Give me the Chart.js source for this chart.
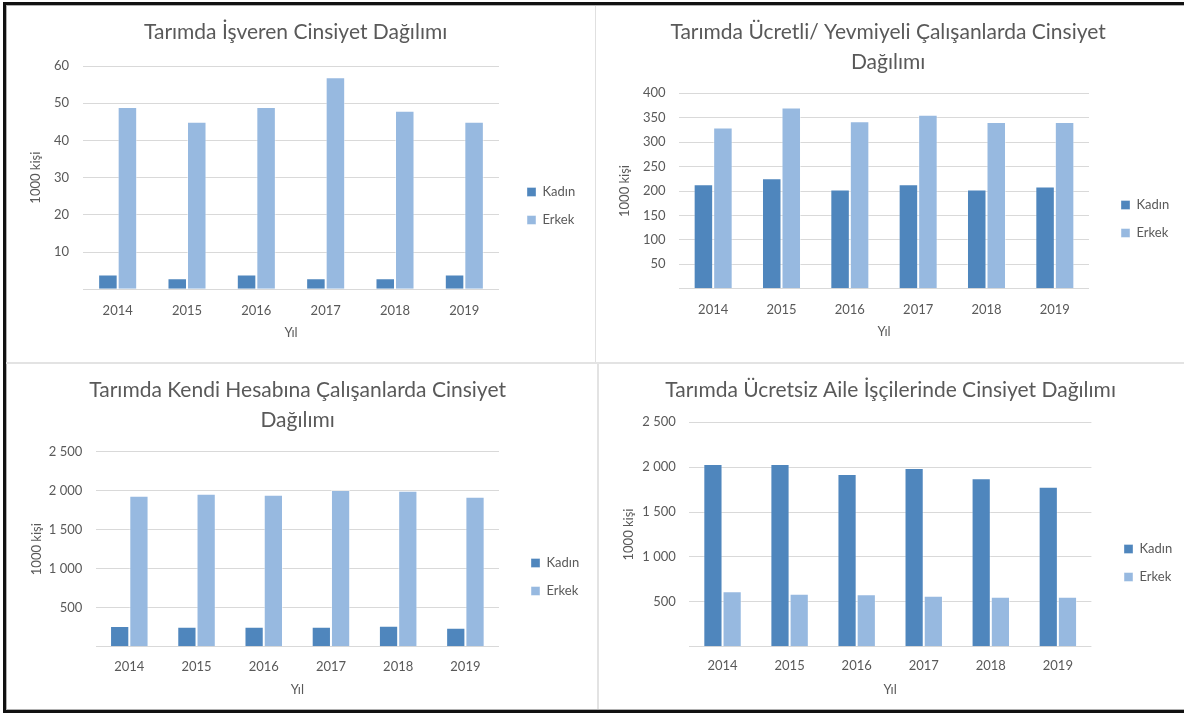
<!DOCTYPE html>
<html><head><meta charset="utf-8">
<script src="https://cdn.jsdelivr.net/npm/chart.js@4.4.1/dist/chart.umd.min.js"></script>
<style>
html,body{margin:0;padding:0;background:#fff;}
body{width:1184px;height:715px;overflow:hidden;position:relative;}
canvas{position:absolute;}
.ln{position:absolute;}
</style></head><body>
<div class="ln" style="left:3px;top:2px;width:1181px;height:3px;background:#111"></div>
<div class="ln" style="left:6px;top:5px;width:1178px;height:1px;background:#b0b0b0"></div>
<div class="ln" style="left:3px;top:2px;width:3px;height:711px;background:#111"></div>
<div class="ln" style="left:6px;top:5px;width:1px;height:705px;background:#b0b0b0"></div>
<div class="ln" style="left:3px;top:710px;width:1181px;height:3px;background:#111"></div>
<div class="ln" style="left:6px;top:709px;width:1178px;height:1px;background:#b0b0b0"></div>
<div class="ln" style="left:595px;top:6px;width:1px;height:356px;background:#e0e0e0"></div>
<div class="ln" style="left:6px;top:362px;width:1178px;height:2px;background:#e3e3e3"></div>
<div class="ln" style="left:597px;top:364px;width:2px;height:345px;background:#e3e3e3"></div>
<canvas id="c1"></canvas><canvas id="c2"></canvas><canvas id="c3"></canvas><canvas id="c4"></canvas>
<script>
// ---- data ----
const years = ['2014', '2015', '2016', '2017', '2018', '2019'];
const seriesNames = ['Kadın', 'Erkek'];
const titles = [
  ['Tarımda İşveren Cinsiyet Dağılımı'],
  ['Tarımda Ücretli/ Yevmiyeli Çalışanlarda Cinsiyet', 'Dağılımı'],
  ['Tarımda Kendi Hesabına Çalışanlarda Cinsiyet', 'Dağılımı'],
  ['Tarımda Ücretsiz Aile İşçilerinde Cinsiyet Dağılımı']
];
const xTitle = 'Yıl';
const yTitle = '1000 kişi';
const isverenKadin = [4, 3, 4, 3, 3, 4];
const isverenErkek = [49, 45, 49, 57, 48, 45];
const ucretliKadin = [214, 226, 203, 214, 203, 209];
const ucretliErkek = [330, 371, 343, 356, 341, 341];
const kendiKadin = [265, 256, 255, 256, 268, 244];
const kendiErkek = [1936, 1962, 1949, 2009, 2000, 1923];
const ucretsizKadin = [2036, 2036, 1924, 1991, 1876, 1783];
const ucretsizErkek = [617, 591, 583, 568, 557, 557];
const yMax = [60, 400, 2500, 2500];
const yStep = [10, 50, 500, 500];

// ---- styles / layout ----
const FONT = 'Lato';
const TXT = '#595959';
const COL_K = '#4f86bd';
const COL_E = '#97b9e0';
const TF = 21, TICKF = 13, LEGF = 13, LP = 15, BOX = 9;
Chart.defaults.font.family = FONT;
Chart.defaults.color = TXT;

const panels = [
  {id:'c1', x:6, y:5, w:589, h:357, area:{l:77, r:503, t:61, b:284.3}, tc:27, labelR:63, yT:30, xl:305, xt:328, legX:531, legY:187, cat:0.563, k:isverenKadin, e:isverenErkek},
  {id:'c2', x:597, y:5, w:587, h:357, area:{l:82, r:502, t:88.3, b:283.7}, tc:27, labelR:68.6, yT:28, xl:303.5, xt:327, legX:534, legY:200, cat:0.571, k:ucretliKadin, e:ucretliErkek},
  {id:'c3', x:6, y:364, w:591, h:346, area:{l:89.7, r:503, t:87.7, b:282.7}, tc:26, labelR:76.3, yT:30.4, xl:301.7, xt:326, legX:535, legY:199, cat:0.573, k:kendiKadin, e:kendiErkek},
  {id:'c4', x:599, y:364, w:585, h:346, area:{l:90, r:502.4, t:58.3, b:282.7}, tc:26, labelR:76.8, yT:29.8, xl:301, xt:326, legX:535, legY:185, cat:0.573, k:ucretsizKadin, e:ucretsizErkek}
];

function fmt(v) { return String(v).replace(/\B(?=(\d{3})+(?!\d))/g, ' '); }
const mctx = document.createElement('canvas').getContext('2d');
mctx.font = LEGF + 'px ' + FONT;
const legTextW = Math.max(...seriesNames.map(s => mctx.measureText(s).width));
const legW = LP + BOX + LEGF / 2 + legTextW;

panels.forEach((p, i) => {
  const cv = document.getElementById(p.id);
  cv.width = p.w; cv.height = p.h;
  cv.style.left = p.x + 'px'; cv.style.top = p.y + 'px';
  const lines = titles[i];
  const tlh = lines.length > 1 ? 30 : TF * 1.2;
  const tTop = p.tc - tlh / 2;
  const tBot = p.area.t - tTop - lines.length * tlh;
  const D = p.legX - p.area.r - LP;
  const padR = p.w - p.area.r - D - legW;
  const legTitleT = p.legY - LEGF / 2 - LP - 10;
  const tickLH = TICKF * 1.2;
  new Chart(cv, {
    type: 'bar',
    data: {
      labels: years,
      datasets: [
        {label: seriesNames[0], data: p.k, backgroundColor: COL_K, borderColor: 'rgba(255,255,255,0.35)', borderWidth: 1},
        {label: seriesNames[1], data: p.e, backgroundColor: COL_E, borderColor: 'rgba(255,255,255,0.45)', borderWidth: 1}
      ]
    },
    options: {
      responsive: false, animation: false, devicePixelRatio: 1,
      categoryPercentage: p.cat, barPercentage: 1,
      layout: {padding: {left: 0, top: 0, bottom: 0, right: padR}},
      plugins: {
        tooltip: {enabled: false},
        title: {display: true, text: lines, color: TXT,
          font: {size: TF, weight: 'normal', lineHeight: tlh / TF},
          padding: {top: tTop, bottom: tBot}},
        legend: {position: 'right', align: 'start',
          title: {display: true, text: ' ', font: {size: 10, lineHeight: 1}, padding: {top: legTitleT, bottom: 0}},
          labels: {boxWidth: BOX, boxHeight: BOX, padding: LP, color: TXT, font: {size: LEGF}}}
      },
      scales: {
        x: {
          grid: {display: false}, border: {display: false},
          ticks: {color: TXT, font: {size: TICKF}, padding: p.xl - p.area.b - tickLH / 2 - 7, maxRotation: 0},
          title: {display: true, text: xTitle, color: TXT, font: {size: TICKF, lineHeight: 1.2}, padding: {top: 0, bottom: p.h - p.xt - tickLH / 2}},
          afterFit: s => { s.height = p.h - p.area.b; }
        },
        y: {
          min: 0, max: yMax[i],
          grid: {color: '#d9d9d9', lineWidth: 1, drawTicks: false}, border: {display: false},
          ticks: {stepSize: yStep[i], color: TXT, font: {size: TICKF}, padding: p.area.l - p.labelR,
            callback: v => v === 0 ? '' : fmt(v)},
          title: {display: true, text: yTitle, color: TXT, font: {size: TICKF, lineHeight: 1.2}, padding: {top: p.yT - tickLH / 2, bottom: 0}},
          afterFit: s => { s.width = p.area.l; }
        },
        y2: {
          type: 'linear', position: 'right', display: true,
          grid: {display: false}, border: {display: false}, ticks: {display: false},
          afterFit: s => { s.width = D; }
        }
      }
    }
  });
});
</script>
</body></html>
